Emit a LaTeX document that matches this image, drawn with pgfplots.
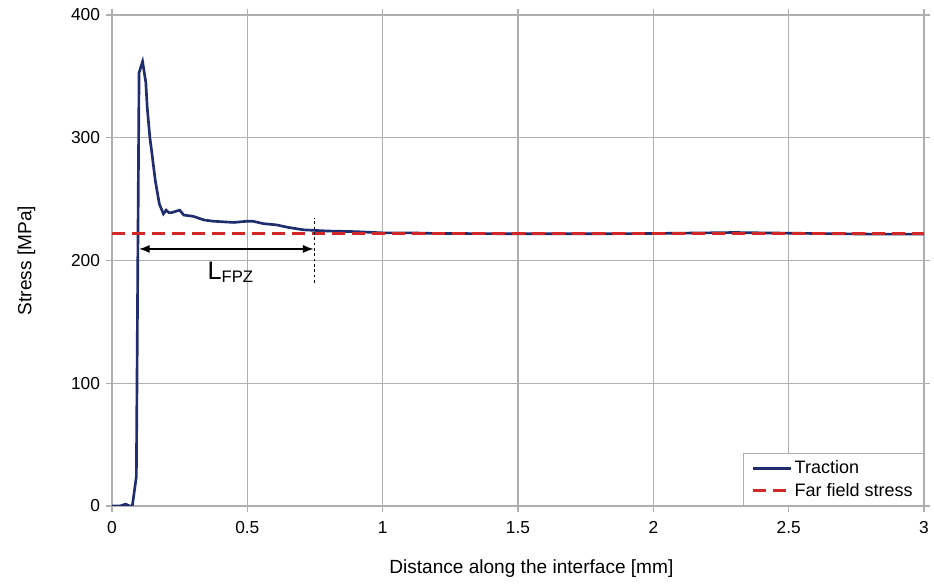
\documentclass[border=0pt]{standalone}
\usepackage{pgfplots}
\pgfplotsset{compat=1.18}
\usepackage{fontspec}
\setmainfont{Liberation Sans}
\usetikzlibrary{arrows.meta}
\definecolor{tracblue}{RGB}{32,45,110}
\definecolor{ffred}{RGB}{210,40,40}
\definecolor{gridc}{RGB}{175,175,175}
\begin{document}
\begin{tikzpicture}
\begin{axis}[
  name=ax,
  scale only axis,
  width=609pt, height=368.25pt,
  xmin=0, xmax=3, ymin=0, ymax=400,
  xtick={0,0.5,1,1.5,2,2.5,3},
  xticklabels={0,0.5,1,1.5,2,2.5,3},
  ytick={0,100,200,300,400},
  /pgf/number format/assume math mode=true,
  grid=major,
  major grid style={gridc, line width=0.9pt},
  axis line style={gridc, line width=0.9pt},
  tick style={gridc, line width=0.9pt},
  tick align=outside,
  major tick length=4.5pt,
  xlabel={Distance along the interface [mm]},
  ylabel={Stress [MPa]},
  xlabel style={yshift=-13pt, xshift=10pt},
  ylabel style={yshift=20pt},
  xticklabel style={yshift=-3.5pt},
  yticklabel style={xshift=-1pt},
  tick label style={font=\fontsize{13}{15}\selectfont},
  label style={font=\fontsize{14.3}{16}\selectfont},
  legend style={at={(rel axis cs:1,0)}, anchor=south east, draw=gridc, line width=0.9pt,
    font=\fontsize{13.5}{15}\selectfont, row sep=1.5pt, inner xsep=6pt, inner ysep=3.5pt},
  legend cell align=left,
  legend image code/.code={\draw[#1] (0cm,0cm) -- (1cm,0cm);},
]
\addplot[color=tracblue, line width=2pt] coordinates {
(0,0) (0.03,0) (0.05,1.5) (0.065,0) (0.075,0) (0.09,24) (0.1,353) (0.113,362) (0.125,345)
(0.13,325) (0.14,300) (0.146,290) (0.16,265) (0.175,246) (0.19,238) (0.2,241) (0.21,239)
(0.22,239) (0.235,240) (0.25,241) (0.265,237) (0.3,236) (0.34,233) (0.374,232) (0.45,231)
(0.5,232) (0.52,232) (0.56,230) (0.608,229) (0.65,227) (0.707,225) (0.75,224.5) (0.8,224)
(0.9,223.5) (1.0,222.5) (1.1,222.5) (1.2,222) (1.5,221.8) (1.8,221.8) (2.0,222) (2.2,222.5)
(2.3,222.8) (2.4,222.5) (2.6,222) (2.8,221.5) (3.0,221.5)
};
\addlegendentry{Traction}
\addplot[color=ffred, line width=1.8pt, dash pattern=on 10pt off 5pt] coordinates {(0,222) (3,222)};
\addlegendentry{Far field stress}
\draw[black, line width=0.9pt, {Latex[length=8pt,width=6pt]}-{Latex[length=8pt,width=6pt]}]
  (axis cs:0.1,209.4) -- (axis cs:0.745,209.4);
\draw[black, line width=0.7pt, dash pattern=on 2pt off 2pt] (axis cs:0.748,182) -- (axis cs:0.748,235);
\node[anchor=base west, inner sep=0pt] at (axis cs:0.352,184.5)
  {{\fontsize{19}{21}\selectfont L}\raisebox{-2pt}{\fontsize{12.5}{14}\selectfont FPZ}};
\end{axis}
\pgfresetboundingbox
\path ([shift={(-84pt,-58.5pt)}]ax.south west) rectangle ([shift={(7.5pt,11.25pt)}]ax.north east);
\end{tikzpicture}
\end{document}
